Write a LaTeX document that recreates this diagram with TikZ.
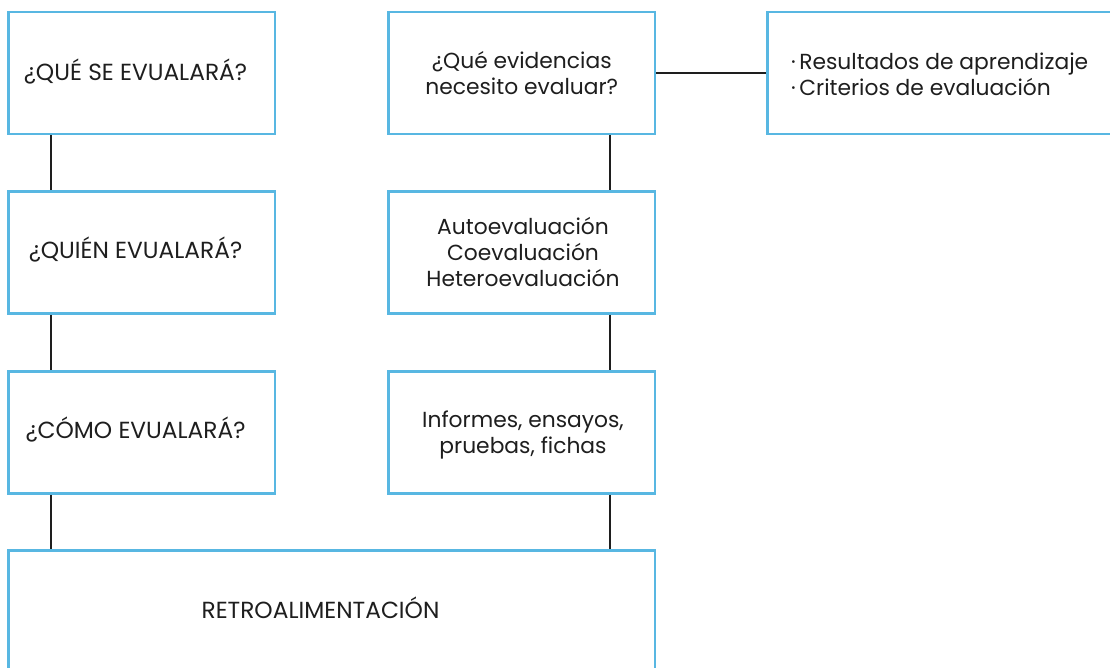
\documentclass[tikz,border=0pt]{standalone}
\usepackage{fontspec}
\setmainfont{Poppins}
\usetikzlibrary{calc}
\definecolor{boxblue}{RGB}{88,183,226}
\definecolor{ink}{RGB}{30,30,30}
\tikzset{
  box/.style={draw=boxblue, line width=2.5pt, rectangle, inner sep=0pt, text=ink, align=center},
  smallbox/.style={box, minimum width=266.5pt, minimum height=122pt},
  link/.style={draw=ink, line width=2.6pt},
  captxt/.style={font=\fontsize{23.3}{26}\selectfont, text=ink},
  lowtxt/.style={font=\fontsize{21.8}{26}\selectfont, text=ink, align=center},
}
\begin{document}
\begin{tikzpicture}[x=1pt,y=-1pt]
\useasboundingbox (0,0) rectangle (1110,668);
\clip (0,0) rectangle (1110,668);
\fill[white] (0,0) rectangle (1110,668);
% left column
\node[smallbox] (A) at (141.75,73) {};
\node[smallbox] (B) at (141.75,252.5) {};
\node[smallbox] (C) at (141.75,432.5) {};
\node[captxt] (tA) at (135.5,72) {¿QUÉ SE EVUALARÁ?};
\node[captxt] (tB) at (135.5,250) {¿QUIÉN EVUALARÁ?};
\node[captxt] (tC) at (135.5,430) {¿CÓMO EVUALARÁ?};
% right column
\node[smallbox] (D) at (521.75,73) {};
\node[smallbox] (E) at (521.75,252.5) {};
\node[smallbox] (F) at (521.75,432.5) {};
\node[lowtxt] (tD) at (521.75,73.5) {¿Qué evidencias\\necesito evaluar?};
\node[lowtxt] (tE) at (523,252) {Autoevaluación\\Coevaluación\\Heteroevaluación};
\node[lowtxt] (tF) at (523,435) {Informes, ensayos,\\pruebas, fichas};
% far right box
\node[box, minimum width=360pt, minimum height=122pt] (G) at (947.5,73) {};
\node[lowtxt, align=left, anchor=west, inner sep=0pt] (tG) at (791,74) {·\hspace{3.5pt}Resultados de aprendizaje\\·\hspace{3.5pt}Criterios de evaluación};
% bottom box
\node[box, minimum width=646.5pt, minimum height=135pt] (H) at (331.75,618) {};
\node[captxt] (tH) at (320.5,608) {RETROALIMENTACIÓN};
% connectors
\coordinate (cl) at (51,0);
\coordinate (cr) at (610,0);
\draw[link] (A.south -| cl) -- (B.north -| cl);
\draw[link] (B.south -| cl) -- (C.north -| cl);
\draw[link] (C.south -| cl) -- (H.north -| cl);
\draw[link] (D.south -| cr) -- (E.north -| cr);
\draw[link] (E.south -| cr) -- (F.north -| cr);
\draw[link] (F.south -| cr) -- (H.north -| cr);
\draw[link] (D.east) -- (G.west);
\end{tikzpicture}
\end{document}
